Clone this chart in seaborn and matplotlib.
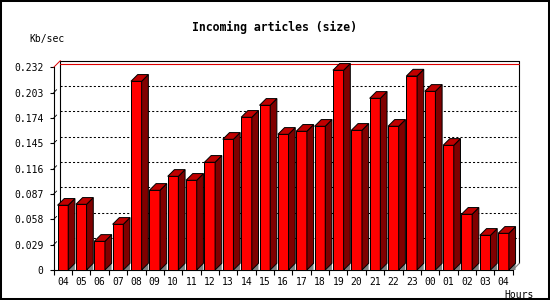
import numpy as np
import pandas as pd
import matplotlib
matplotlib.use("Agg")
import matplotlib.pyplot as plt
import seaborn as sns
from matplotlib.patches import Polygon, Rectangle
from matplotlib.lines import Line2D
from matplotlib.transforms import IdentityTransform

# ---- data ----
hours = ["04", "05", "06", "07", "08", "09", "10", "11", "12", "13", "14", "15",
         "16", "17", "18", "19", "20", "21", "22", "23", "00", "01", "02", "03", "04"]
kb_per_sec = [0.0741, 0.0752, 0.0328, 0.0523, 0.2160, 0.0912, 0.1072, 0.1027,
              0.1233, 0.1496, 0.1748, 0.1885, 0.1553, 0.1588, 0.1645, 0.2286,
              0.1599, 0.1965, 0.1645, 0.2220, 0.2045, 0.1427, 0.0638, 0.0397, 0.0420]
y_ticks = [0, 0.029, 0.058, 0.087, 0.116, 0.145, 0.174, 0.203, 0.232]
y_tick_labels = ["0", "0.029", "0.058", "0.087", "0.116", "0.145", "0.174", "0.203", "0.232"]
title = "Incoming articles (size)"
y_label = "Kb/sec"
x_label = "Hours"

sns.set_theme(style="white")
plt.rcParams['font.family'] = ['DejaVu Sans Mono']

W, H = 550, 300
DPI = 100
fig = plt.figure(figsize=(W / DPI, H / DPI), dpi=DPI)
fig.patch.set_facecolor("white")

ax = fig.add_axes([53.7 / W, 30 / H, 459 / W, 202.7 / H])
ax.patch.set_alpha(0)

df = pd.DataFrame({"slot": range(len(hours)), "kb": kb_per_sec})
sns.barplot(data=df, x="slot", y="kb", color="#ff0000", saturation=1,
            width=0.58, edgecolor="black", linewidth=0.72, ax=ax, zorder=5)

ax.set_xlim(-0.5, len(hours) - 0.5)
ax.set_ylim(0, y_ticks[-1])
ax.set_xlabel("")
ax.set_ylabel("")

# spines
for s in ["top", "right"]:
    ax.spines[s].set_visible(False)
for s in ["left", "bottom"]:
    ax.spines[s].set_color("black")
    ax.spines[s].set_linewidth(0.8)

# ticks
ax.set_yticks(y_ticks)
ax.set_yticklabels(y_tick_labels, fontsize=7)
ax.set_xticks(range(len(hours)))
ax.set_xticklabels(hours, fontsize=7)
ax.set_xticks(np.arange(-0.5, len(hours) + 0.5, 1.0), minor=True)
ax.tick_params(axis="y", which="major", left=True, length=3, width=0.8,
               color="black", pad=4.3, labelcolor="black")
ax.tick_params(axis="x", which="major", bottom=True, length=0, pad=5.0, labelcolor="black")
ax.tick_params(axis="x", which="minor", bottom=True, length=3.5, width=0.8, color="black")

# ---- 3D decoration computed from the axes' own transform ----
D = 6.7  # depth in pixels
T = ax.transData
ident = IdentityTransform()

XL, YB = T.transform((-0.5, 0))
XR, YT = T.transform((len(hours) - 0.5, y_ticks[-1]))

def seg(p0, p1, **kw):
    ax.add_line(Line2D([p0[0], p1[0]], [p0[1], p1[1]], transform=ident,
                       clip_on=False, **kw))

# back wall gridlines (dotted)
for v in y_ticks[1:-1]:
    yv = T.transform((0, v))[1]
    seg((XL + D, yv + D), (XR + D, yv + D), color="black", lw=0.75,
        linestyle=(0, (2, 2)), zorder=1)
    # little perspective marks at the axis
    seg((XL, yv), (XL + 3, yv + 3), color="black", lw=0.6, zorder=1)

# back wall frame
seg((XL + D, YB + D), (XL + D, YT + D), color="black", lw=0.8, zorder=2)
seg((XL + D, YT + D), (XR + D, YT + D), color="black", lw=0.8, zorder=2)
seg((XR + D, YT + D), (XR + D, YB + D), color="black", lw=0.8, zorder=2)
seg((XL + D, YT + D - 3.3), (XR + D, YT + D - 3.3), color="#dd0000", lw=0.8, zorder=2)
seg((XL, YT), (XL + D, YT + D), color="#dd0000", lw=0.7, zorder=2)
seg((XR, YB), (XR + D, YB + D), color="#808080", lw=0.8, zorder=2)

# bar sides, tops and floor shadows
for p in list(ax.patches):
    x0 = p.get_x()
    w = p.get_width()
    h = p.get_height()
    X0, Yb = T.transform((x0, 0))
    X1, Yt = T.transform((x0 + w, h))
    floor = Polygon([(X1, Yb), (X1 + D, Yb + D), (X1 + D, Yb)], closed=True,
                    transform=ident, clip_on=False, facecolor="#808080",
                    edgecolor="none", zorder=4)
    side = Polygon([(X1, Yb), (X1, Yt), (X1 + D, Yt + D), (X1 + D, Yb + D)],
                   closed=True, transform=ident, clip_on=False,
                   facecolor="#800000", edgecolor="black", lw=0.72, zorder=6)
    top = Polygon([(X0, Yt), (X1, Yt), (X1 + D, Yt + D), (X0 + D, Yt + D)],
                  closed=True, transform=ident, clip_on=False,
                  facecolor="#c00000", edgecolor="black", lw=0.72, zorder=6)
    ax.add_patch(floor)
    ax.add_patch(side)
    ax.add_patch(top)

ax.set_xlim(-0.5, len(hours) - 0.5)
ax.set_ylim(0, y_ticks[-1])

# texts
fig.text(274.6 / W, 1 - 27.5 / H, title, ha="center", va="center",
         fontsize=8.3, fontweight="bold", color="black")
fig.text(47.4 / W, 1 - 38.6 / H, y_label, ha="center", va="center",
         fontsize=7, color="black")
fig.text(534 / W, 1 - 294.5 / H, x_label, ha="right", va="center",
         fontsize=7, color="black")

# outer border
fig.add_artist(Rectangle((0, 0), 1, 1, transform=fig.transFigure, fill=False,
                         edgecolor="black", lw=2.9, clip_on=False))

fig.savefig("out.png", dpi=DPI)
